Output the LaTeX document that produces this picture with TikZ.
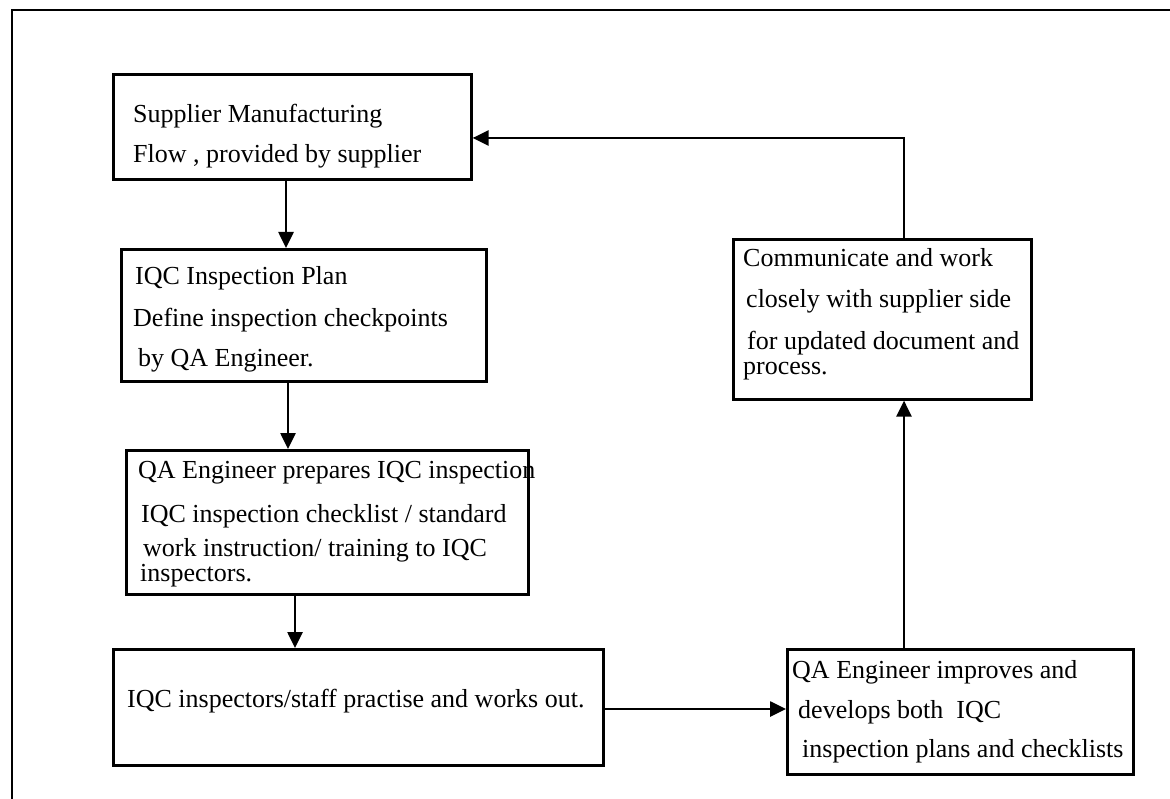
\documentclass[tikz,border=0pt]{standalone}
\usepackage{fontspec}
\setmainfont{Liberation Serif}
\usetikzlibrary{arrows.meta}
\begin{document}
\begin{tikzpicture}[x=1pt,y=-1pt,
  box/.style={draw, line width=2.6pt, inner sep=0pt, anchor=north west},
  txt/.style={anchor=base west, inner sep=0pt, font=\fontsize{26}{30}\selectfont},
  link/.style={line width=2.6pt, -{Triangle[length=16pt,width=15pt]}},
]
\useasboundingbox (0,0) rectangle (1170,799);
% page frame (top and left edges)
\draw[line width=2pt] (1170,10) -- (12,10) -- (12,799);

% boxes
\node[box, minimum width=358pt, minimum height=105pt] (sup)  at (112,73)  {};
\node[box, minimum width=365pt, minimum height=132pt] (plan) at (120,248) {};
\node[box, minimum width=402pt, minimum height=144pt] (prep) at (125,449) {};
\node[box, minimum width=490pt, minimum height=116pt] (work) at (112,648) {};
\node[box, minimum width=346pt, minimum height=125pt] (imp)  at (786,648) {};
\node[box, minimum width=298pt, minimum height=160pt] (comm) at (732,238) {};

% texts
\node[txt] (t1a) at (133,123) {Supplier Manufacturing};
\node[txt] (t1b) at (133,163) {Flow , provided by supplier};

\node[txt] (t2a) at (135,285) {IQC Inspection Plan};
\node[txt] (t2b) at (133,327) {Define inspection checkpoints};
\node[txt] (t2c) at (138,367) {by QA Engineer.};

\node[txt] (t3a) at (138,478) {QA Engineer prepares IQC inspection};
\node[txt] (t3b) at (141,522) {IQC inspection checklist / standard};
\node[txt] (t3c) at (143,556) {work instruction/ training to IQC};
\node[txt] (t3d) at (140,581) {inspectors.};

\node[txt] (t4a) at (127,707) {IQC inspectors/staff practise and works out.};

\node[txt] (t5a) at (792,678) {QA Engineer improves and};
\node[txt] (t5b) at (798,718) {develops both\ \ IQC};
\node[txt] (t5c) at (802,757) {inspection plans and checklists};

\node[txt] (t6a) at (743,267) {Communicate and work};
\node[txt] (t6b) at (746,308) {closely with supplier side};
\node[txt] (t6c) at (747,350) {for updated document and};
\node[txt] (t6d) at (743,375) {process.};

% connectors
\draw[link] (sup.south -| 286,0) -- (plan.north -| 286,0);
\draw[link] (plan.south -| 288,0) -- (prep.north -| 288,0);
\draw[link] (prep.south -| 295,0) -- (work.north -| 295,0);
\draw[link] (work.east |- 0,709) -- (imp.west |- 0,709);
\draw[link] (imp.north -| 904,0) -- (comm.south -| 904,0);
\draw[link] (comm.north -| 904,0) |- (sup.east |- 0,138);
\end{tikzpicture}
\end{document}
